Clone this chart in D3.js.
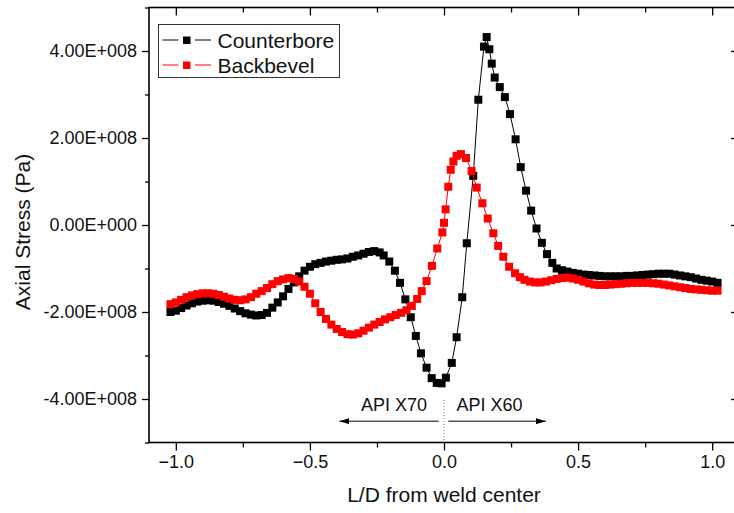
<!DOCTYPE html>
<html>
<head>
<meta charset="utf-8">
<script src="https://cdn.jsdelivr.net/npm/d3@7"></script>
<style>
  body { margin: 0; background: #fff; }
  text { font-family: "Liberation Sans", Arial, sans-serif; }
</style>
</head>
<body>
<script>
// values; stress in units of 1E+008 Pa
var cbX = [-1.02,-1.00,-0.98,-0.96,-0.94,-0.92,-0.90,-0.88,-0.86,-0.84,
  -0.82,-0.80,-0.78,-0.76,-0.74,-0.72,-0.70,-0.68,-0.66,-0.64,
  -0.62,-0.60,-0.58,-0.56,-0.54,-0.52,-0.50,-0.48,-0.46,-0.44,
  -0.42,-0.40,-0.38,-0.36,-0.34,-0.32,-0.30,-0.28,-0.26,-0.24,
  -0.225,-0.204,-0.183,-0.164,-0.144,-0.124,-0.105,-0.086,-0.065,-0.046,
  -0.027,-0.009,0.007,0.029,0.047,0.068,0.085,0.109,0.128,0.149,
  0.159,0.169,0.178,0.189,0.208,0.227,0.246,0.267,0.286,0.306,
  0.325,0.345,0.365,0.384,0.404,0.42,
  0.44,0.46,0.48,0.50,0.52,0.54,0.56,0.58,0.60,0.62,
  0.64,0.66,0.68,0.70,0.72,0.74,0.76,0.78,0.80,0.82,
  0.84,0.86,0.88,0.90,0.92,0.94,0.96,0.98,1.00,1.02];
var cbY = [-2.00,-1.97,-1.91,-1.85,-1.80,-1.76,-1.74,-1.73,-1.74,-1.77,
  -1.81,-1.86,-1.92,-1.98,-2.03,-2.06,-2.08,-2.07,-2.02,-1.90,
  -1.78,-1.64,-1.47,-1.32,-1.18,-1.05,-0.96,-0.90,-0.87,-0.84,
  -0.82,-0.80,-0.79,-0.77,-0.73,-0.70,-0.66,-0.62,-0.60,-0.63,
  -0.70,-0.84,-1.05,-1.33,-1.71,-2.12,-2.55,-2.95,-3.28,-3.52,
  -3.63,-3.64,-3.51,-3.17,-2.58,-1.66,-0.42,1.13,2.88,4.10,
  4.32,4.04,3.71,3.39,3.17,2.94,2.55,1.97,1.33,0.79,
  0.33,-0.08,-0.41,-0.67,-0.87,-1.00,
  -1.04,-1.07,-1.10,-1.12,-1.14,-1.15,-1.16,-1.17,-1.18,-1.18,
  -1.18,-1.18,-1.17,-1.17,-1.16,-1.15,-1.14,-1.13,-1.12,-1.12,
  -1.12,-1.14,-1.16,-1.18,-1.20,-1.23,-1.26,-1.28,-1.30,-1.33];

var bbX = [-1.02,-1.00,-0.98,-0.96,-0.94,-0.92,-0.90,-0.88,-0.86,-0.84,
  -0.82,-0.80,-0.78,-0.76,-0.74,-0.72,-0.70,-0.68,-0.66,-0.64,
  -0.62,-0.60,-0.58,-0.56,-0.54,-0.52,-0.50,-0.48,-0.46,-0.44,
  -0.42,-0.40,-0.38,-0.36,-0.34,-0.32,-0.30,-0.28,-0.26,-0.24,
  -0.22,-0.20,-0.18,-0.16,-0.14,-0.12,-0.10,
  -0.083,-0.065,-0.045,-0.025,-0.006,0.0,0.006,0.016,0.025,0.035,
  0.047,0.063,0.082,0.103,0.122,0.143,0.163,0.184,0.202,0.221,
  0.243,0.265,0.283,
  0.30,0.32,0.34,0.36,0.38,0.40,0.42,0.44,0.46,0.48,
  0.50,0.52,0.54,0.56,0.58,0.60,0.62,0.64,0.66,0.68,
  0.70,0.72,0.74,0.76,0.78,0.80,0.82,0.84,0.86,0.88,
  0.90,0.92,0.94,0.96,0.98,1.00,1.02];
var bbY = [-1.82,-1.78,-1.72,-1.66,-1.62,-1.59,-1.57,-1.57,-1.58,-1.61,
  -1.65,-1.69,-1.72,-1.73,-1.71,-1.66,-1.58,-1.52,-1.45,-1.36,
  -1.29,-1.25,-1.22,-1.24,-1.30,-1.42,-1.58,-1.80,-2.00,-2.16,
  -2.29,-2.39,-2.46,-2.51,-2.52,-2.49,-2.43,-2.36,-2.29,-2.23,
  -2.17,-2.12,-2.07,-2.02,-1.96,-1.86,-1.70,
  -1.52,-1.29,-0.94,-0.54,-0.17,0.05,0.36,0.88,1.27,1.46,
  1.59,1.63,1.54,1.24,0.86,0.50,0.15,-0.19,-0.48,-0.73,
  -0.96,-1.11,-1.20,
  -1.26,-1.30,-1.32,-1.32,-1.30,-1.27,-1.24,-1.22,-1.21,-1.23,
  -1.26,-1.30,-1.34,-1.37,-1.38,-1.38,-1.37,-1.36,-1.35,-1.34,
  -1.33,-1.33,-1.33,-1.33,-1.34,-1.35,-1.37,-1.39,-1.41,-1.43,
  -1.45,-1.47,-1.48,-1.49,-1.50,-1.51,-1.51];

var unit = 1e8;
var xTicks = [-1.0, -0.5, 0.0, 0.5, 1.0];
var xMinor = [-0.75, -0.25, 0.25, 0.75];
var yTicks = [-4e8, -2e8, 0, 2e8, 4e8];
var yMinor = [-5e8, -3e8, -1e8, 1e8, 3e8, 5e8];
var seriesNames = ["Counterbore", "Backbevel"];
var seriesColors = ["#000000", "#ff0000"];

var W = 734, H = 513;
var svg = d3.select("body").append("svg")
  .attr("width", W).attr("height", H);

var x = d3.scaleLinear().domain([-1.1, 1.1]).range([149, 739]);
var y = d3.scaleLinear().domain([-5e8, 5e8]).range([442.5, 7.5]);

function sci(v) {
  if (v === 0) return "0.00E+000";
  var e = Math.floor(Math.log10(Math.abs(v)));
  var m = v / Math.pow(10, e);
  return m.toFixed(2) + "E" + (e < 0 ? "-" : "+") + String(Math.abs(e)).padStart(3, "0");
}

var x0 = x.range()[0], x1 = x.range()[1], y0 = y.range()[1], y1 = y.range()[0];

// axes
function styleAxis(g) {
  g.select(".domain").remove();
  g.selectAll("line").attr("stroke", "#000").attr("stroke-width", 1.3);
  g.selectAll("text").attr("font-size", 18).attr("fill", "#111")
    .style("font-family", '"Liberation Sans", Arial, sans-serif');
}
svg.append("g").attr("transform", "translate(0," + y1 + ")")
  .call(d3.axisBottom(x).tickValues(xTicks).tickFormat(d3.format(".1f")).tickSize(8).tickPadding(5))
  .call(styleAxis);
svg.append("g").attr("transform", "translate(0," + y1 + ")")
  .call(d3.axisBottom(x).tickValues(xMinor).tickFormat("").tickSize(5))
  .call(styleAxis);
svg.append("g").attr("transform", "translate(0," + y0 + ")")
  .call(d3.axisBottom(x).tickValues(xTicks).tickFormat("").tickSize(8))
  .call(styleAxis);
svg.append("g").attr("transform", "translate(0," + y0 + ")")
  .call(d3.axisBottom(x).tickValues(xMinor).tickFormat("").tickSize(5))
  .call(styleAxis);
svg.append("g").attr("transform", "translate(" + x0 + ",0)")
  .call(d3.axisLeft(y).tickValues(yTicks).tickFormat(sci).tickSize(7).tickPadding(5))
  .call(styleAxis);
svg.append("g").attr("transform", "translate(" + x0 + ",0)")
  .call(d3.axisLeft(y).tickValues(yMinor).tickFormat("").tickSize(4))
  .call(styleAxis);
svg.append("g").attr("transform", "translate(" + x1 + ",0)")
  .call(d3.axisLeft(y).tickValues(yTicks).tickFormat("").tickSize(8))
  .call(styleAxis);

svg.append("rect")
  .attr("x", x0).attr("y", y0)
  .attr("width", x1 - x0).attr("height", y1 - y0)
  .attr("fill", "none").attr("stroke", "#000").attr("stroke-width", 1.6);

// axis titles
svg.append("text")
  .attr("x", (x0 + 739) / 2 - 0).attr("y", 502)
  .attr("text-anchor", "middle").attr("font-size", 21).attr("fill", "#111")
  .text("L/D from weld center");
svg.append("text")
  .attr("transform", "translate(30,232) rotate(-90)")
  .attr("text-anchor", "middle").attr("font-size", 21).attr("fill", "#111")
  .text("Axial Stress (Pa)");

// series
var series = [
  seriesNames[0], seriesNames[1]
].map(function(name, i) {
  var xs = i === 0 ? cbX : bbX, ys = i === 0 ? cbY : bbY;
  return { name: name, color: seriesColors[i],
    pts: xs.map(function(v, j) { return { x: v, y: ys[j] * unit }; }) };
});

var line = d3.line().x(function(d) { return x(d.x); }).y(function(d) { return y(d.y); });
var ms = 8;

series.forEach(function(s) {
  var g = svg.append("g");
  g.append("path").datum(s.pts)
    .attr("d", line).attr("fill", "none")
    .attr("stroke", s.color).attr("stroke-width", 1);
  g.selectAll("rect").data(s.pts).enter().append("rect")
    .attr("x", function(d) { return x(d.x) - ms / 2; })
    .attr("y", function(d) { return y(d.y) - ms / 2; })
    .attr("width", ms).attr("height", ms)
    .attr("fill", s.color);
});

// weld centre annotation
var defs = svg.append("defs");
defs.append("marker").attr("id", "arr")
  .attr("viewBox", "0 0 10 6").attr("refX", 10).attr("refY", 3)
  .attr("markerWidth", 10).attr("markerHeight", 6)
  .attr("markerUnits", "userSpaceOnUse").attr("orient", "auto")
  .append("path").attr("d", "M0,0L10,3L0,6Z").attr("fill", "#000");

var arrowY = y(-4.51e8);
svg.append("line")
  .attr("x1", x(0)).attr("x2", x(0)).attr("y1", 400).attr("y2", y1)
  .attr("stroke", "#777").attr("stroke-width", 1).attr("stroke-dasharray", "1,2");
svg.append("line")
  .attr("x1", x(-0.02)).attr("x2", x(-0.39)).attr("y1", arrowY).attr("y2", arrowY)
  .attr("stroke", "#000").attr("stroke-width", 1).attr("marker-end", "url(#arr)");
svg.append("line")
  .attr("x1", x(0.016)).attr("x2", x(0.38)).attr("y1", arrowY).attr("y2", arrowY)
  .attr("stroke", "#000").attr("stroke-width", 1).attr("marker-end", "url(#arr)");
svg.append("text")
  .attr("x", x(0) - 17).attr("y", 410.5).attr("text-anchor", "end")
  .attr("font-size", 18).attr("fill", "#111").text("API X70");
svg.append("text")
  .attr("x", x(0) + 12.5).attr("y", 410.5)
  .attr("font-size", 18).attr("fill", "#111").text("API X60");

// legend
var lg = svg.append("g");
lg.append("rect").attr("x", 158.5).attr("y", 24.5).attr("width", 181).attr("height", 53)
  .attr("fill", "#fff").attr("stroke", "#333").attr("stroke-width", 1);
series.forEach(function(s, i) {
  var cy = i === 0 ? 40 : 65;
  lg.append("line").attr("x1", 162.5).attr("x2", 178.5).attr("y1", cy).attr("y2", cy)
    .attr("stroke", s.color).attr("stroke-width", 1);
  lg.append("line").attr("x1", 195).attr("x2", 211).attr("y1", cy).attr("y2", cy)
    .attr("stroke", s.color).attr("stroke-width", 1);
  lg.append("rect").attr("x", 183).attr("y", cy - 3.5).attr("width", 7.5).attr("height", 7.5)
    .attr("fill", s.color);
  lg.append("text").attr("x", 217.5).attr("y", cy + 7.5)
    .attr("font-size", 21).attr("fill", "#111").text(s.name);
});
</script>
</body>
</html>
